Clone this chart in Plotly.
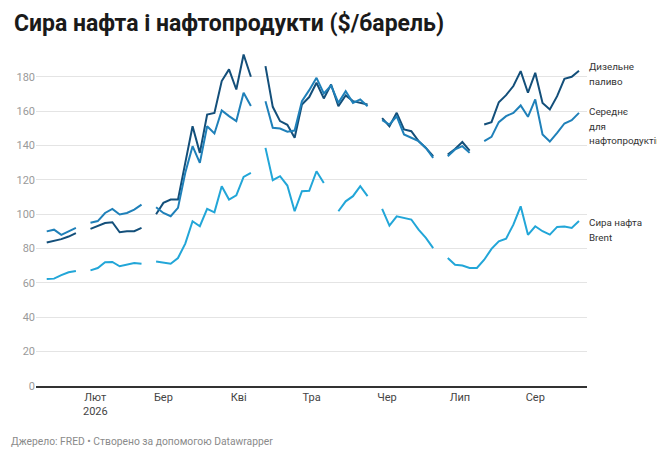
"""Crude oil and petroleum products price chart ($/barrel)."""

import plotly.graph_objects as go

# Sample dates (every third day) shared by all three series.
dates = [
    "2026-01-12", "2026-01-15", "2026-01-18", "2026-01-21", "2026-01-24", "2026-01-27", "2026-01-30",
    "2026-02-02", "2026-02-05", "2026-02-08", "2026-02-11", "2026-02-14", "2026-02-17", "2026-02-20",
    "2026-02-23", "2026-02-26",
    "2026-03-01", "2026-03-04", "2026-03-07", "2026-03-10", "2026-03-13", "2026-03-16", "2026-03-19",
    "2026-03-22", "2026-03-25", "2026-03-28", "2026-03-31",
    "2026-04-03", "2026-04-06", "2026-04-09", "2026-04-12", "2026-04-15", "2026-04-18", "2026-04-21",
    "2026-04-24", "2026-04-27", "2026-04-30",
    "2026-05-03", "2026-05-06", "2026-05-09", "2026-05-12", "2026-05-15", "2026-05-18", "2026-05-21",
    "2026-05-24", "2026-05-27", "2026-05-30",
    "2026-06-02", "2026-06-05", "2026-06-08", "2026-06-11", "2026-06-14", "2026-06-17", "2026-06-20",
    "2026-06-23", "2026-06-26", "2026-06-29",
    "2026-07-02", "2026-07-05", "2026-07-08", "2026-07-11", "2026-07-14", "2026-07-17", "2026-07-20",
    "2026-07-23", "2026-07-26", "2026-07-29",
    "2026-08-01", "2026-08-04", "2026-08-07", "2026-08-10", "2026-08-13", "2026-08-16", "2026-08-19",
]

# None marks a missing observation (gap in the line).
diesel = [
    83.5, 84.5, 85.5, 87.0, 89.0, None, 91.5,
    93.4, 94.9, 95.3, 89.5, 90.1, 90.1, 92.0, None, 100.0,
    106.6, 108.5, 108.5, 129.9, 151.2, 135.7, 158.0, 159.0, 177.5, 184.3, 172.6,
    193.0, 180.0, None, 186.2, 162.5, 154.2, 152.0, 144.5, 163.9, 168.2,
    176.5, 167.4, 175.5, 162.9, 169.1, 165.8, 164.8, 163.9, None, 155.9,
    151.2, 159.0, 149.3, 148.3, 142.5, 138.6, 133.8, None, 134.7, 138.0,
    142.0, 137.0, None, 152.2, 153.6, 165.2, 169.3, 174.6, 183.3, 170.7,
    182.3, 164.8, 161.0, 168.7, 178.8, 180.0, 183.5,
]
products_avg = [
    90.0, 91.0, 88.0, 90.0, 92.0, None, 95.0,
    96.0, 100.7, 103.1, 99.8, 100.7, 102.7, 105.6, None, 104.0,
    100.7, 98.8, 103.7, 124.1, 139.6, 129.9, 151.2, 147.0, 160.4, 157.1, 154.2,
    170.7, 163.0, None, 165.8, 150.3, 149.9, 148.0, 148.7, 165.8, 172.2,
    179.4, 170.3, 174.9, 164.8, 171.6, 164.8, 166.8, 162.9, None, 154.7,
    152.2, 157.0, 146.4, 144.5, 142.5, 138.6, 132.8, None, 133.8, 137.7,
    139.6, 135.7, None, 142.5, 145.0, 153.6, 157.1, 159.0, 163.3, 156.7,
    166.8, 146.4, 142.3, 147.4, 152.8, 154.7, 159.0,
]
brent = [
    62.3, 62.5, 64.5, 66.2, 67.0, None, 67.3,
    68.7, 72.0, 72.2, 69.7, 70.7, 71.6, 71.2, None, 72.5,
    71.8, 71.2, 74.5, 82.9, 95.9, 93.0, 103.1, 101.1, 116.3, 108.5, 111.0,
    121.7, 124.0, None, 138.6, 119.8, 122.1, 116.7, 101.7, 113.4, 113.6,
    125.0, 118.2, None, 101.7, 107.5, 110.5, 116.3, 110.5, None, 103.1,
    93.4, 98.8, 97.8, 96.9, 91.0, 86.2, 80.3, None, 74.5, 70.6,
    70.1, 68.7, 68.7, 73.5, 79.8, 84.2, 85.8, 93.9, 104.6, 88.0,
    93.0, 90.1, 88.1, 92.6, 92.8, 92.0, 96.0,
]

series_names = ["Дизельне паливо", "Середнє для нафтопродуктів", "Сира нафта Brent"]
colors = ["#134f7a", "#1f80b9", "#22a6d8"]

# Direct labels at the right edge, one entry per text line (y in $/barrel).
label_lines = ["Дизельне", "паливо", "Середнє", "для", "нафтопродуктів", "Сира нафта", "Brent"]
label_line_y = [186.1, 177.0, 159.8, 151.1, 142.9, 95.2, 86.7]

month_ticks = ["2026-02-01", "2026-03-01", "2026-04-01", "2026-05-01",
               "2026-06-01", "2026-07-01", "2026-08-01"]
month_labels = ["Лют<br>2026", "Бер", "Кві", "Тра", "Чер", "Лип", "Сер"]
y_ticks = [0, 20, 40, 60, 80, 100, 120, 140, 160, 180]

# The page body adds an 8px offset, so figure positions are set 8px up/left.
W, H = 665, 459
ML, MR, MT, MB = 28, 86, 43, 81

fig = go.Figure()
for name, values, color in zip(series_names, [diesel, products_avg, brent], colors):
    fig.add_trace(go.Scatter(
        x=dates, y=values, name=name, mode="lines",
        line={"color": color, "width": 2}, connectgaps=False,
        hoverinfo="skip",
    ))

for text, y in zip(label_lines, label_line_y):
    fig.add_annotation(
        x=1, xref="paper", y=y, yref="y", text=text, showarrow=False,
        xanchor="left", yanchor="middle", xshift=0, align="left",
        font={"family": "Roboto", "size": 9.8, "color": "#333333"},
    )

plot_h = H - MT - MB
fig.add_annotation(
    x=(1 - ML) / (W - ML - MR), xref="paper",
    y=(H - MB - 433) / plot_h, yref="paper",
    text="Джерело: FRED • Створено за допомогою Datawrapper", showarrow=False,
    xanchor="left", yanchor="middle",
    font={"family": "Roboto", "size": 10.3, "color": "#8a8a8a"},
)

fig.update_layout(
    width=W, height=H,
    margin={"l": ML, "r": MR, "t": MT, "b": MB},
    paper_bgcolor="white", plot_bgcolor="white",
    showlegend=False,
    title={
        "text": "<b>Сира нафта і нафтопродукти ($/барель)</b>",
        "x": 6 / W, "xanchor": "left", "y": 1 - 15 / H, "yanchor": "middle",
        "font": {"family": "Roboto", "size": 23, "color": "#1a1a1a"},
    },
    xaxis={
        "type": "date", "automargin": False,
        "range": ["2026-01-07 14:00", "2026-08-22 07:00"],
        "tickvals": month_ticks, "ticktext": month_labels,
        "showgrid": False, "showline": True, "linecolor": "#333333", "linewidth": 1.5,
        "ticks": "", "tickfont": {"family": "Roboto", "size": 11, "color": "#444444"},
    },
    yaxis={
        "range": [0, 195], "tickvals": y_ticks, "automargin": False,
        "gridcolor": "#e4e4e4", "gridwidth": 1, "zeroline": False,
        "ticks": "", "tickfont": {"family": "Roboto", "size": 11, "color": "#9a9a9a"},
    },
)

fig.write_html("out.html")
